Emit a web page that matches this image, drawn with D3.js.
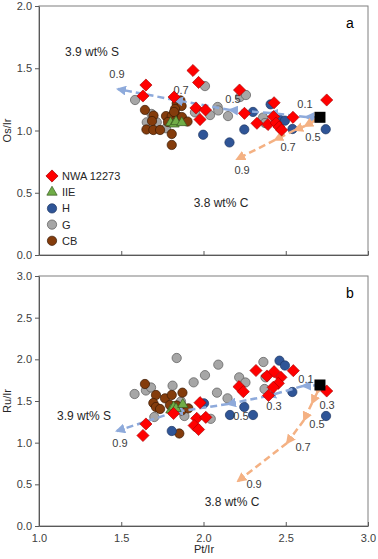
<!DOCTYPE html>
<html>
<head>
<meta charset="utf-8">
<script src="https://cdn.jsdelivr.net/npm/d3@7"></script>
<style>
  body { margin: 0; background: #fff; }
  svg { display: block; font-family: "Liberation Sans", Arial, sans-serif; }
  .axis text { font-size: 11px; fill: #404040; }
  .axis path, .axis line { stroke: #595959; }
  .note { font-size: 12px; fill: #262626; }
  .flab { font-size: 11px; fill: #404040; text-anchor: middle; dominant-baseline: central; }
</style>
</head>
<body>
<svg id="chart" width="378" height="559"></svg>
<script>
// ---- data: panel a (Os/Ir vs Pt/Ir) ----
const nwaA = [[1.650,1.365],[1.632,1.277],[1.936,1.482],[1.970,1.386],[1.821,1.269],[1.954,1.181],[2.012,1.165],
  [1.979,1.088],[2.219,1.325],[2.249,1.138],[2.429,1.223],[2.426,1.111],[2.325,1.058],[2.392,1.048],[2.441,1.060],
  [2.459,1.028],[2.475,1.004],[2.544,1.106],[2.749,1.245]];
const iieA = [[1.800,1.063],[1.821,1.052],[1.833,1.071],[1.868,1.063]];
const hA = [[1.998,0.966],[2.158,0.904],[2.248,1.008],[2.301,1.149],[2.408,1.210],[2.455,1.098],[2.495,1.079],
  [2.541,1.012],[2.743,1.010]];
const gA = [[1.584,1.245],[1.684,1.133],[1.655,1.066],[1.716,1.066],[1.772,1.018],[1.841,1.218],[1.948,1.146],
  [2.009,1.357],[2.040,1.124],[2.086,1.189],[2.090,1.161],[2.149,1.116],[2.222,1.269],[2.258,1.285],[2.362,1.104],
  [2.374,1.060],[2.441,1.092]];
const cbA = [[1.644,1.165],[1.696,1.120],[1.687,1.076],[1.653,1.008],[1.695,1.004],[1.736,1.004],[1.772,1.116],
  [1.807,0.972],[1.807,0.884],[1.837,1.217],[1.860,1.241],[1.867,1.197],[1.827,1.173],[1.807,1.116],[1.841,1.116],
  [1.869,1.108],[1.903,1.072],[1.821,1.149],[1.784,1.068]];
const startA = [2.708, 1.106];
const sTrendA = [[2.623,1.108],[2.404,1.141],[2.161,1.165],[1.827,1.245],[1.480,1.333]];
const cTrendA = [[2.672,1.076],[2.617,1.036],[2.556,1.004],[2.435,0.924],[2.204,0.771]];

// ---- data: panel b (Ru/Ir vs Pt/Ir) ----
const nwaB = [[1.650,1.224],[1.632,1.086],[1.818,1.350],[1.979,1.480],[1.959,1.292],[2.014,1.304],[1.943,1.206],
  [1.970,1.158],[2.216,1.672],[2.242,1.612],[2.319,1.866],[2.386,1.800],[2.429,1.852],[2.471,1.784],[2.455,1.712],
  [2.424,1.664],[2.395,1.566],[2.546,1.864],[2.749,1.620]];
const iieB = [[1.802,1.392],[1.818,1.428],[1.833,1.410],[1.874,1.458]];
const hB = [[2.003,1.472],[1.807,1.140],[2.161,1.332],[2.301,1.332],[2.248,1.428],[2.462,1.984],[2.495,1.926],
  [2.540,1.608],[2.745,1.320]];
const gB = [[1.581,1.584],[1.650,1.626],[1.681,1.662],[1.701,1.308],[1.837,2.016],[1.812,1.684],[1.863,1.494],
  [1.884,1.320],[1.940,1.724],[2.009,1.810],[2.082,1.600],[2.090,1.936],[2.044,1.286],[2.146,1.532],[2.217,1.784],
  [2.255,1.722],[2.364,1.968],[2.377,1.784],[2.371,1.644]];
const cbB = [[1.644,1.704],[1.711,1.572],[1.695,1.476],[1.766,1.532],[1.807,1.572],[1.872,1.600],[1.711,1.428],
  [1.736,1.404],[1.796,1.452],[1.837,1.446],[1.867,1.386],[1.908,1.412],[1.853,1.110]];
const startB = [2.708, 1.692];
const sTrendB = [[2.605,1.680],[2.392,1.560],[2.149,1.464],[1.827,1.368],[1.474,1.140]];
const cTrendB = [[2.690,1.596],[2.660,1.476],[2.611,1.272],[2.508,0.996],[2.210,0.540]];

// ---- labels / ticks ----
const fractions = [0.1, 0.3, 0.5, 0.7, 0.9];
const xTicks = [1.0, 1.5, 2.0, 2.5, 3.0];
const yTicksA = [0, 0.5, 1.0, 1.5, 2.0];
const yTicksB = [0, 0.5, 1.0, 1.5, 2.0, 2.5, 3.0];
const legendNames = ['NWA 12273', 'IIE', 'H', 'G', 'CB'];

const colors = {
  nwa: '#ff0000', iie: '#70ad47', h: '#2f5597', g: '#a6a6a6', cb: '#843c0c',
  s: '#8eaadb', c: '#f4b183'
};

const svg = d3.select('#chart');
const left = 39, right = 368;

const x = d3.scaleLinear().domain([1, 3]).range([left, right]);

const defs = svg.append('defs');
['s', 'c'].forEach((k) => {
  defs.append('marker')
    .attr('id', 'arrow-' + k)
    .attr('viewBox', '0 0 10 10')
    .attr('refX', 8).attr('refY', 5)
    .attr('markerWidth', 4).attr('markerHeight', 4)
    .attr('markerUnits', 'strokeWidth')
    .attr('orient', 'auto')
    .append('path')
    .attr('d', 'M0,0 L10,5 L0,10 z')
    .attr('fill', colors[k]);
});

const shapes = {
  circle: d3.symbol().type(d3.symbolCircle).size(68),
  diamond: d3.symbol().type(d3.symbolSquare).size(74),
  triangle: d3.symbol().type(d3.symbolTriangle).size(46)
};

function drawPanel(p) {
  const y = d3.scaleLinear().domain([0, p.yMax]).range([p.bottom, p.top]);
  const g = svg.append('g');

  // frame
  g.append('rect')
    .attr('x', left).attr('y', p.top)
    .attr('width', right - left).attr('height', p.bottom - p.top)
    .attr('fill', 'none').attr('stroke', '#7f7f7f');

  // axes
  const xAxis = d3.axisBottom(x).tickValues(xTicks).tickSizeInner(-4).tickSizeOuter(0)
    .tickFormat(p.showX ? d3.format('.1f') : '');
  g.append('g').attr('class', 'axis')
    .attr('transform', `translate(0,${p.bottom})`)
    .call(xAxis)
    .call((s) => s.selectAll('text').attr('dy', '1.2em'));

  const yAxis = d3.axisLeft(y).tickValues(p.yTicks).tickSizeInner(4).tickSizeOuter(0)
    .tickFormat(d3.format('.1f'));
  g.append('g').attr('class', 'axis')
    .attr('transform', `translate(${left},0)`)
    .call(yAxis)
    .call((s) => s.selectAll('text').attr('x', -7));

  g.append('text')
    .attr('transform', `translate(11,${(p.top + p.bottom) / 2}) rotate(-90)`)
    .attr('text-anchor', 'middle')
    .attr('font-size', 11).attr('fill', '#262626')
    .text(p.title);

  g.append('text')
    .attr('x', 350).attr('y', p.top + 22)
    .attr('text-anchor', 'middle')
    .attr('font-size', 14).attr('fill', '#000')
    .text(p.letter);

  // scatter series
  const series = [
    { data: p.g, shape: 'circle', color: colors.g, stroke: '#595959' },
    { data: p.cb, shape: 'circle', color: colors.cb, stroke: '#3a1a05' },
    { data: p.h, shape: 'circle', color: colors.h, stroke: '#1f3864' }
  ];
  series.forEach((sr) => {
    g.append('g').selectAll('path')
      .data(sr.data).enter()
      .append('path')
      .attr('d', shapes[sr.shape])
      .attr('transform', (d) => `translate(${x(d[0])},${y(d[1])})`)
      .attr('fill', sr.color)
      .attr('stroke', sr.stroke)
      .attr('stroke-width', 0.7);
  });

  // trend lines
  const trends = [
    { pts: p.sTrend, key: 's', labels: p.sLabels },
    { pts: p.cTrend, key: 'c', labels: p.cLabels }
  ];
  trends.forEach((t) => {
    const pts = [p.start].concat(t.pts);
    for (let i = 1; i < pts.length; i++) {
      g.append('line')
        .attr('x1', x(pts[i - 1][0])).attr('y1', y(pts[i - 1][1]))
        .attr('x2', x(pts[i][0])).attr('y2', y(pts[i][1]))
        .attr('stroke', colors[t.key])
        .attr('stroke-width', 2.5)
        .attr('stroke-dasharray', '7 4')
        .attr('marker-end', `url(#arrow-${t.key})`);
    }
    t.labels.forEach((l) => {
      const i = fractions.indexOf(l.f);
      g.append('text').attr('class', 'flab')
        .attr('x', x(t.pts[i][0]) + l.dx)
        .attr('y', y(t.pts[i][1]) + l.dy)
        .text(l.f.toFixed(1));
    });
  });

  // IIE and NWA on top
  g.append('g').selectAll('path')
    .data(p.iie).enter()
    .append('path')
    .attr('d', shapes.triangle)
    .attr('transform', (d) => `translate(${x(d[0])},${y(d[1])})`)
    .attr('fill', colors.iie).attr('stroke', '#38571f').attr('stroke-width', 0.7);

  g.append('g').selectAll('path')
    .data(p.nwa).enter()
    .append('path')
    .attr('d', shapes.diamond)
    .attr('transform', (d) => `translate(${x(d[0])},${y(d[1])}) rotate(45)`)
    .attr('fill', colors.nwa).attr('stroke', '#a50000').attr('stroke-width', 0.6);

  // starting composition
  g.append('rect')
    .attr('x', x(p.start[0]) - 5.5).attr('y', y(p.start[1]) - 5.5)
    .attr('width', 11).attr('height', 11)
    .attr('fill', '#000');

  // notes
  p.notes.forEach((n) => {
    g.append('text').attr('class', 'note')
      .attr('x', n.x).attr('y', n.y)
      .attr('text-anchor', 'middle')
      .text(n.text);
  });

  return g;
}

drawPanel({
  top: 6, bottom: 255, yMax: 2, yTicks: yTicksA, title: 'Os/Ir', letter: 'a', showX: false,
  nwa: nwaA, iie: iieA, h: hA, g: gA, cb: cbA, start: startA, sTrend: sTrendA, cTrend: cTrendA,
  sLabels: [{ f: 0.9, dx: -1, dy: -15 }, { f: 0.7, dx: 6, dy: -10 }, { f: 0.5, dx: 3, dy: -11 }, { f: 0.1, dx: -1, dy: -13 }],
  cLabels: [{ f: 0.5, dx: 18, dy: 7 }, { f: 0.7, dx: 13, dy: 7 }, { f: 0.9, dx: 5, dy: 11 }],
  notes: [{ x: 92, y: 56, text: '3.9 wt% S' }, { x: 221, y: 207, text: '3.8 wt% C' }]
});

drawPanel({
  top: 276, bottom: 526, yMax: 3, yTicks: yTicksB, title: 'Ru/Ir', letter: 'b', showX: true,
  nwa: nwaB, iie: iieB, h: hB, g: gB, cb: cbB, start: startB, sTrend: sTrendB, cTrend: cTrendB,
  sLabels: [{ f: 0.1, dx: 3, dy: -7 }, { f: 0.3, dx: 6, dy: 10 }, { f: 0.5, dx: 13, dy: 12 }, { f: 0.9, dx: 3, dy: 12 }],
  cLabels: [{ f: 0.3, dx: 15, dy: 2 }, { f: 0.5, dx: 13, dy: 4 }, { f: 0.7, dx: 16, dy: 4 }, { f: 0.9, dx: 16, dy: 3 }],
  notes: [{ x: 84, y: 420, text: '3.9 wt% S' }, { x: 232, y: 506, text: '3.8 wt% C' }]
});

// x title
svg.append('text')
  .attr('x', 204).attr('y', 553)
  .attr('text-anchor', 'middle')
  .attr('font-size', 11).attr('fill', '#262626')
  .text('Pt/Ir');

// legend (panel a)
const legend = svg.append('g').attr('transform', 'translate(52,176)');
const legendStyle = [
  { shape: 'diamond', fill: colors.nwa, stroke: '#a50000', rot: 45 },
  { shape: 'triangle', fill: colors.iie, stroke: '#38571f', rot: 0 },
  { shape: 'circle', fill: colors.h, stroke: '#1f3864', rot: 0 },
  { shape: 'circle', fill: colors.g, stroke: '#595959', rot: 0 },
  { shape: 'circle', fill: colors.cb, stroke: '#3a1a05', rot: 0 }
];
const rows = legend.selectAll('g.row')
  .data(legendNames).enter()
  .append('g').attr('class', 'row')
  .attr('transform', (d, i) => `translate(0,${i * 16.2})`);
rows.append('path')
  .attr('d', (d, i) => shapes[legendStyle[i].shape]())
  .attr('transform', (d, i) => `rotate(${legendStyle[i].rot})`)
  .attr('fill', (d, i) => legendStyle[i].fill)
  .attr('stroke', (d, i) => legendStyle[i].stroke)
  .attr('stroke-width', 0.7);
rows.append('text')
  .attr('x', 10).attr('y', 4)
  .attr('font-size', 11).attr('fill', '#262626')
  .text((d) => d);
</script>
</body>
</html>
